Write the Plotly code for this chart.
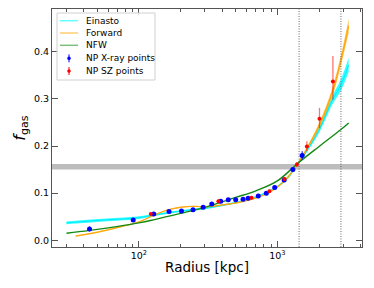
import plotly.graph_objects as go

# ---- data ----
r_xray = [44, 91, 128, 165, 203, 246, 291, 336, 390, 442, 500, 565, 615, 728, 832, 957, 1119, 1294, 1510]
f_xray = [0.024, 0.043, 0.056, 0.061, 0.062, 0.065, 0.070, 0.077, 0.083, 0.086, 0.086, 0.087, 0.089, 0.094, 0.100, 0.112, 0.128, 0.150, 0.180]
e_xray = [0.005, 0.003, 0.003, 0.003, 0.003, 0.003, 0.003, 0.003, 0.003, 0.003, 0.003, 0.003, 0.003, 0.003, 0.003, 0.003, 0.004, 0.004, 0.009]

r_sz = [122, 375, 650, 875, 1124, 1383, 1633, 2014, 2518]
f_sz = [0.056, 0.083, 0.090, 0.104, 0.130, 0.161, 0.199, 0.258, 0.337]
e_sz_up = [0.002, 0.003, 0.003, 0.003, 0.004, 0.005, 0.011, 0.023, 0.054]
e_sz_dn = [0.002, 0.003, 0.003, 0.003, 0.004, 0.005, 0.010, 0.020, 0.039]

r_ein = [30, 50, 100, 130, 200, 300, 500, 700, 1000, 1200, 1400, 1630, 2000, 2480, 2877, 3270]
ein_mid = [0.037, 0.042, 0.048, 0.054, 0.062, 0.068, 0.080, 0.092, 0.114, 0.134, 0.162, 0.190, 0.234, 0.296, 0.330, 0.372]
ein_half = [0.003, 0.003, 0.003, 0.0025, 0.002, 0.002, 0.002, 0.002, 0.002, 0.003, 0.003, 0.004, 0.006, 0.009, 0.012, 0.015]

r_fwd = [35, 50, 70, 100, 130, 160, 200, 250, 300, 400, 500, 700, 850, 1000, 1200, 1400, 1630, 2000, 2480, 2877, 3270]
fwd_mid = [0.009, 0.017, 0.027, 0.039, 0.054, 0.064, 0.070, 0.072, 0.071, 0.075, 0.079, 0.090, 0.100, 0.113, 0.135, 0.162, 0.194, 0.243, 0.312, 0.382, 0.455]
fwd_half = [0.0015, 0.0015, 0.0015, 0.0015, 0.0015, 0.0015, 0.0015, 0.0015, 0.0015, 0.0015, 0.0015, 0.002, 0.002, 0.002, 0.003, 0.003, 0.004, 0.006, 0.009, 0.011, 0.015]

r_nfw = [30, 44, 100, 130, 200, 300, 500, 700, 1000, 1400, 2000, 2877, 3270]
nfw_f = [0.015, 0.021, 0.037, 0.044, 0.057, 0.070, 0.091, 0.105, 0.126, 0.163, 0.199, 0.235, 0.249]

f_cosmic_lo, f_cosmic_hi = 0.150, 0.162
r_vlines = [1435, 2877]

x_tickvals = [100, 1000]
x_ticktext = ["10<sup>2</sup>", "10<sup>3</sup>"]
x_minor = [30, 40, 50, 60, 70, 80, 90, 200, 300, 400, 500, 600, 700, 800, 900, 2000, 3000, 4000]
y_tickvals = [0.0, 0.1, 0.2, 0.3, 0.4]
y_ticktext = ["0.0", "0.1", "0.2", "0.3", "0.4"]

legend_names = ["Einasto", "Forward", "NFW", "NP X-ray points", "NP SZ points"]

# ---- styles ----
C_NFW = "#138a13"
FONT = "DejaVu Sans"
W, H = 374, 288
ML, MR, MT, MB = 52, 12, 9, 41
PW, PH = W - ML - MR, H - MT - MB

fig = go.Figure()


def band(r, mid, half, fillcol, linecol):
    lo = [m - h for m, h in zip(mid, half)]
    hi = [m + h for m, h in zip(mid, half)]
    fig.add_trace(go.Scatter(x=r, y=lo, mode="lines", line=dict(width=0, shape="spline"),
                             showlegend=False, hoverinfo="skip"))
    fig.add_trace(go.Scatter(x=r, y=hi, mode="lines", line=dict(width=0, shape="spline"),
                             fill="tonexty", fillcolor=fillcol, showlegend=False, hoverinfo="skip"))
    fig.add_trace(go.Scatter(x=r, y=mid, mode="lines", showlegend=False,
                             line=dict(color=linecol, width=1.0, shape="spline")))


band(r_ein, ein_mid, ein_half, "rgba(0,255,255,0.8)", "rgba(0,235,255,1)")
band(r_fwd, fwd_mid, fwd_half, "rgba(255,165,0,0.7)", "rgba(255,165,0,1)")

fig.add_trace(go.Scatter(x=r_nfw, y=nfw_f, mode="lines", showlegend=False,
                         line=dict(color=C_NFW, width=1.4, shape="spline")))

fig.add_trace(go.Scatter(x=r_xray, y=f_xray, mode="markers", showlegend=False,
                         marker=dict(color="blue", size=5),
                         error_y=dict(type="data", array=e_xray, color="blue", thickness=1, width=0)))
fig.add_trace(go.Scatter(x=r_sz, y=f_sz, mode="markers", showlegend=False,
                         marker=dict(color="red", size=4),
                         error_y=dict(type="data", array=e_sz_up, arrayminus=e_sz_dn,
                                      color="rgba(255,0,0,0.55)", thickness=1.3, width=0)))

fig.add_shape(type="rect", xref="paper", yref="y", x0=0, x1=1, y0=f_cosmic_lo, y1=f_cosmic_hi,
              fillcolor="#bdbdbd", line=dict(width=0), layer="below")
for rv in r_vlines:
    fig.add_shape(type="line", xref="x", yref="paper", x0=rv, x1=rv, y0=0, y1=1,
                  line=dict(color="#666666", width=1, dash="1px,1.5px"))

# ---- legend box (drawn in paper coordinates) ----
def px(x):
    return (x - ML) / PW


def py(y):
    return 1 - (y - MT) / PH


fig.add_shape(type="rect", xref="paper", yref="paper", x0=px(57), x1=px(155), y0=py(80), y1=py(13),
              fillcolor="rgba(255,255,255,0.85)", line=dict(color="#d0d0d0", width=1))
leg_y = [20.7, 33, 45.3, 58.3, 71]
leg_line_cols = ["rgba(0,255,255,0.6)", "rgba(255,165,0,0.55)", "rgba(19,138,19,0.55)"]
for i in range(3):
    fig.add_shape(type="line", xref="paper", yref="paper", x0=px(60), x1=px(78),
                  y0=py(leg_y[i]), y1=py(leg_y[i]), line=dict(color=leg_line_cols[i], width=1.5))
for i, col in [(3, "blue"), (4, "red")]:
    fig.add_shape(type="line", xref="paper", yref="paper", x0=px(69), x1=px(69),
                  y0=py(leg_y[i] + 4), y1=py(leg_y[i] - 4), line=dict(color=col, width=1))
    fig.add_shape(type="circle", xref="paper", yref="paper", x0=px(67.5), x1=px(70.5),
                  y0=py(leg_y[i] + 1.5), y1=py(leg_y[i] - 1.5), fillcolor=col, line=dict(color=col, width=0.5))
for name, yy in zip(legend_names, leg_y):
    fig.add_annotation(text=name, xref="paper", yref="paper", x=px(84), y=py(yy),
                       xanchor="left", yanchor="middle", showarrow=False,
                       font=dict(family=FONT, size=9, color="black"))

axis_common = dict(showline=True, linecolor="#555555", linewidth=1, mirror="ticks",
                   ticks="inside", tickcolor="#555555", showgrid=False, zeroline=False,
                   automargin=False,
                   tickfont=dict(family=FONT, size=9.5, color="black"))

fig.update_xaxes(type="log", range=[1.3727, 3.611], tickvals=x_tickvals, ticktext=x_ticktext,
                 ticklen=6, tickwidth=1,
                 minor=dict(ticks="inside", tickvals=x_minor, ticklen=3, tickcolor="#555555"),
                 title=dict(text="Radius [kpc]", font=dict(family=FONT, size=13.5, color="black"),
                            standoff=2),
                 **axis_common)
fig.update_yaxes(range=[-0.0142, 0.4906], tickvals=y_tickvals, ticktext=y_ticktext,
                 ticklen=6, tickwidth=1,
                 title=dict(text="<i>f</i><sub>gas</sub>", font=dict(family=FONT, size=16, color="black"),
                            standoff=4),
                 **axis_common)

fig.update_layout(
    width=W, height=H,
    margin=dict(l=ML, r=MR, t=MT, b=MB),
    plot_bgcolor="white", paper_bgcolor="white",
    font=dict(family=FONT, size=10, color="black"),
    showlegend=False,
)

fig.write_html("out.html",
               config={"displayModeBar": False, "staticPlot": True},
               post_script="document.body.style.margin='0';document.body.style.padding='0';"
                           "document.documentElement.style.overflow='hidden';")
